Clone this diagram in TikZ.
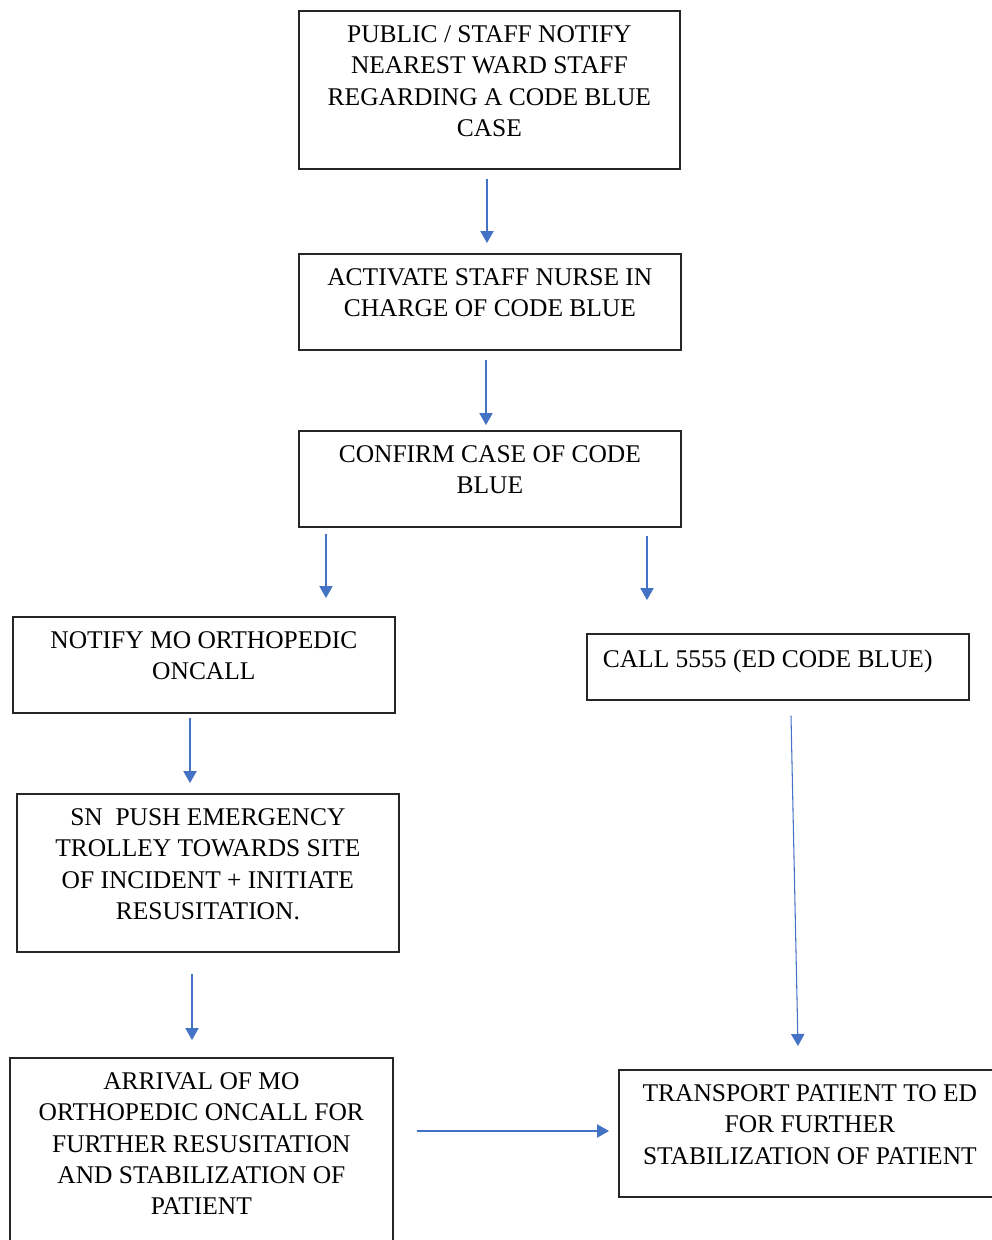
\documentclass[tikz,border=0pt]{standalone}
\usepackage{fontspec}
\setmainfont{Liberation Serif}
\usetikzlibrary{arrows.meta,calc}
\definecolor{flowblue}{HTML}{4472C4}
% box body: width, height, text (centred, first baseline 24pt below the top edge)
\newcommand{\flowtext}[3]{\begin{minipage}[t][#2][t]{#1}\centering\rule{0pt}{24pt}#3\end{minipage}}
\begin{document}
\begin{tikzpicture}[x=0.75pt,y=-0.75pt,
  box/.style={draw=black!85, line width=1.3pt, inner sep=0pt, anchor=north west,
    font=\fontsize{19.1}{23.3}\selectfont},
  flow/.style={draw=flowblue, line width=0.8pt, -{Triangle[width=10pt,length=9pt]}}]
\useasboundingbox (0,0) rectangle (992,1240);
\clip (0,0) rectangle (992,1240);

% process boxes
\node[box] (b1) at (298,10) {\flowtext{285.75pt}{118.5pt}{PUBLIC / STAFF NOTIFY\\NEAREST WARD STAFF\\REGARDING A CODE BLUE\\CASE}};
\node[box] (b2) at (298,253) {\flowtext{286.5pt}{72pt}{ACTIVATE STAFF NURSE IN\\CHARGE OF CODE BLUE}};
\node[box] (b3) at (298,430) {\flowtext{286.5pt}{72pt}{CONFIRM CASE OF CODE\\BLUE}};
\node[box] (b4) at (12,616) {\flowtext{286.5pt}{72pt}{NOTIFY MO ORTHOPEDIC\\ONCALL}};
\node[box] (b5) at (586,633) {\begin{minipage}[t][49.5pt][t]{286.5pt}\rule{0pt}{25pt}\hspace*{12pt}CALL 5555 (ED CODE BLUE)\end{minipage}};
\node[box] (b6) at (16,793) {\flowtext{286.5pt}{118.5pt}{SN\ \ PUSH EMERGENCY\\TROLLEY TOWARDS SITE\\OF INCIDENT + INITIATE\\RESUSITATION.}};
\node[box] (b7) at (9,1057) {\flowtext{287.25pt}{150pt}{ARRIVAL OF MO\\ORTHOPEDIC ONCALL FOR\\FURTHER RESUSITATION\\AND STABILIZATION OF\\PATIENT}};
\node[box] (b8) at (618,1069) {\flowtext{286.5pt}{95.25pt}{TRANSPORT PATIENT TO ED\\FOR FURTHER\\STABILIZATION OF PATIENT}};

% connectors
\draw[flow] ($(b1.south west)+(189,9)$) -- ($(b2.north west)+(189,-10)$);
\draw[flow] ($(b2.south west)+(188,9)$) -- ($(b3.north west)+(188,-5)$);
\draw[flow] ($(b3.south west)+(28,6)$) -- ($(b4.north west)+(314,-18)$);
\draw[flow] ($(b3.south west)+(349,8)$) -- ($(b5.north west)+(61,-33)$);
\draw[flow] ($(b4.south west)+(178,4)$) -- ($(b6.north west)+(174,-10)$);
\draw[flow] ($(b5.south west)+(205,15)$) -- ($(b8.north west)+(180,-23)$);
\draw[flow] ($(b6.south west)+(176,21)$) -- ($(b7.north west)+(183,-17)$);
\draw[flow] ($(b7.north east)+(23,74)$) -- ($(b8.north west)+(-9,62)$);
\end{tikzpicture}
\end{document}
